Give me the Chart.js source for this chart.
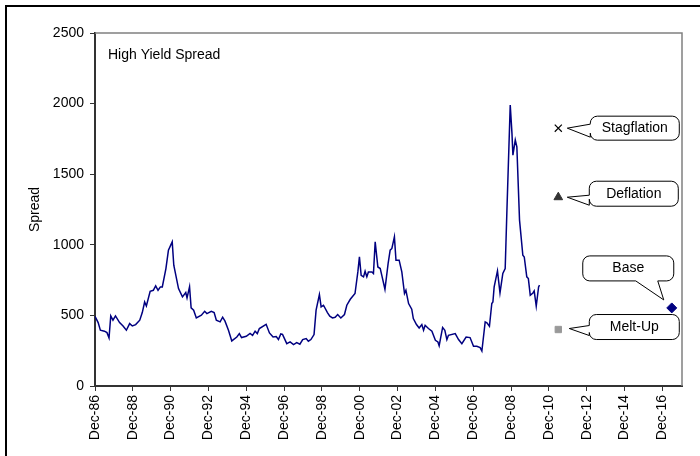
<!DOCTYPE html>
<html>
<head>
<meta charset="utf-8">
<script src="https://cdn.jsdelivr.net/npm/chart.js@4.4.0/dist/chart.umd.min.js"></script>
<style>
  html, body { margin: 0; padding: 0; background: #fff; }
  #wrap { width: 700px; height: 456px; }
</style>
</head>
<body>
<div id="wrap"><canvas id="spreadChart" width="700" height="456"></canvas></div>
<script>
// x positions are months counted from Dec-86
const months = [
    0, 2, 3.4, 6, 7.6, 8.9, 10, 11.4, 13, 15.6, 17.8, 19.9, 22, 23.7, 25.8, 28.4, 30, 31.5, 32.6, 35,
    37, 38.5, 40, 41.5, 42.7, 45, 46.6, 49, 50, 53, 55.5, 57.6, 58.4, 60, 61, 62.6, 64.3, 67.5, 69.6, 71,
    73.8, 75.6, 77, 79.4, 81, 82.5, 84.7, 86.8, 90, 91.6, 93, 96, 98.4, 100, 101.6, 103, 104.3, 108.6, 110.7, 113,
    115, 116.4, 117.9, 119, 121.7, 123.8, 126, 128, 130, 131.8, 134, 135.4, 137, 139, 140.3, 142.4, 143.5, 145, 147.5, 149,
    150.7, 152.4, 154, 156, 158.3, 159.8, 162, 165, 166.8, 167.8, 168.9, 170.4, 171.4, 172.5, 173.5, 175.7, 176.7, 177.8, 179.5, 181,
    182, 184, 186, 187.3, 188.4, 190, 191, 193, 194.7, 196.4, 197.3, 199, 201, 202, 204, 205.7, 207.4, 208.5, 209.5, 211.6,
    213.8, 216, 217.6, 218.4, 220.6, 222, 223.3, 224.3, 228.6, 230.7, 232.8, 235.5, 238, 240.2, 242.3, 244.4, 245.5, 247.6, 248.7, 250.3,
    251.8, 252.5, 253.3, 255.4, 257, 258.8, 260.3, 261.4, 263.5, 264.6, 265.2, 266.7, 267.7, 269.4, 271.5, 272.4, 274, 275, 276.2, 277.9,
    278.7, 280, 281.5, 282.1
];
const spread = [
    494, 449, 395, 388, 378, 340, 496, 466, 496, 449, 425, 395, 442, 425, 435, 466, 520, 595, 567, 671,
    678, 709, 678, 702, 702, 832, 962, 1021, 855, 690, 631, 662, 624, 702, 553, 537, 482, 501, 529, 513,
    529, 520, 466, 454, 487, 459, 395, 319, 347, 371, 343, 352, 373, 359, 388, 371, 407, 437, 376, 347,
    350, 329, 369, 366, 300, 312, 293, 307, 296, 329, 336, 317, 329, 364, 537, 648, 560, 572, 520, 495,
    482, 487, 506, 482, 506, 572, 614, 655, 808, 914, 784, 773, 813, 773, 808, 808, 797, 1021, 843, 832,
    784, 685, 867, 962, 974, 1056, 891, 891, 808, 655, 678, 584, 544, 478, 435, 411, 435, 395, 430, 407,
    388, 324, 312, 285, 415, 395, 329, 359, 371, 329, 300, 347, 343, 281, 281, 272, 248, 454, 447, 423,
    584, 595, 702, 815, 659, 797, 832, 1245, 1990, 1789, 1635, 1742, 1694, 1175, 926, 914, 773, 761, 643, 659,
    673, 565, 702, 714
];

const tickMonths = [0, 24, 48, 72, 96, 120, 144, 168, 192, 216, 240, 264, 288, 312, 336, 360];
const tickLabels = ['Dec-86', 'Dec-88', 'Dec-90', 'Dec-92', 'Dec-94', 'Dec-96', 'Dec-98', 'Dec-00',
    'Dec-02', 'Dec-04', 'Dec-06', 'Dec-08', 'Dec-10', 'Dec-12', 'Dec-14', 'Dec-16'];

const scenarioNames = ['Stagflation', 'Deflation', 'Base', 'Melt-Up'];
const scenarioMonths = [294, 294, 366, 294];
const scenarioValues = [1826, 1337, 553, 400];

const FONT = 'Liberation Sans, Arial, sans-serif';

// marker look per scenario
const markerStyle = {
    'Stagflation': { pointStyle: 'crossRot', radius: 5, color: '#000', borderWidth: 1.2 },
    'Deflation': { pointStyle: 'triangle', radius: 5, color: '#333', borderWidth: 1 },
    'Base': { pointStyle: 'rectRot', radius: 5, color: '#000080', borderWidth: 1 },
    'Melt-Up': { pointStyle: 'rect', radius: 4.5, color: '#999', borderWidth: 1 }
};

// box/tail geometry relative to the marker pixel
const calloutShape = {
    'Stagflation': { dx: 32, dy: -12, w: 89, h: 24, side: 'left', a: -4, b: 9, tx: 9, ty: 0 },
    'Deflation': { dx: 31, dy: -16, w: 89, h: 25, side: 'left', a: -2, b: 8, tx: 9, ty: 0 },
    'Melt-Up': { dx: 31, dy: -15, w: 90, h: 25, side: 'left', a: -4, b: 6, tx: 11, ty: -1 },
    'Base': { dx: -89, dy: -52, w: 91, h: 25, side: 'bottom', a: -36, b: -14, tx: -8, ty: -8 }
};

function calloutPath(ctx, x, y, w, h, r, s, px, py) {
    ctx.beginPath();
    ctx.moveTo(x + r, y);
    ctx.lineTo(x + w - r, y);
    ctx.arcTo(x + w, y, x + w, y + r, r);
    ctx.lineTo(x + w, y + h - r);
    ctx.arcTo(x + w, y + h, x + w - r, y + h, r);
    if (s.side === 'bottom') {
        ctx.lineTo(px + s.b, y + h);
        ctx.lineTo(px + s.tx, py + s.ty);
        ctx.lineTo(px + s.a, y + h);
    }
    ctx.lineTo(x + r, y + h);
    ctx.arcTo(x, y + h, x, y + h - r, r);
    if (s.side === 'left') {
        ctx.lineTo(x, py + s.b);
        ctx.lineTo(px + s.tx, py + s.ty);
        ctx.lineTo(x, py + s.a);
    }
    ctx.lineTo(x, y + r);
    ctx.arcTo(x, y, x + r, y, r);
    ctx.closePath();
}

const decorations = {
    id: 'decorations',
    beforeDatasetsDraw(chart) {
        const { ctx, chartArea: a } = chart;
        ctx.save();
        // grey frame on top and right of the plot
        ctx.strokeStyle = '#808080';
        ctx.lineWidth = 1.5;
        ctx.beginPath();
        ctx.moveTo(a.left, a.top);
        ctx.lineTo(a.right, a.top);
        ctx.lineTo(a.right, a.bottom);
        ctx.stroke();
        ctx.restore();
    },
    afterDatasetsDraw(chart) {
        const { ctx, chartArea: a, scales: { x, y } } = chart;
        ctx.save();
        ctx.fillStyle = '#000';
        ctx.font = '14px ' + FONT;
        ctx.textBaseline = 'alphabetic';
        ctx.textAlign = 'left';
        ctx.fillText('High Yield Spread', a.left + 13, a.top + 26);

        scenarioNames.forEach((name, i) => {
            const s = calloutShape[name];
            const px = x.getPixelForValue(scenarioMonths[i]);
            const py = y.getPixelForValue(scenarioValues[i]);
            const bx = px + s.dx, by = py + s.dy;
            calloutPath(ctx, bx, by, s.w, s.h, 7, s, px, py);
            ctx.fillStyle = '#fff';
            ctx.fill();
            ctx.strokeStyle = '#000';
            ctx.lineWidth = 1;
            ctx.stroke();
            ctx.fillStyle = '#000';
            ctx.textAlign = 'center';
            ctx.textBaseline = 'middle';
            ctx.fillText(name, bx + s.w / 2, by + s.h / 2);
        });

        // outer frame
        ctx.strokeStyle = '#000';
        ctx.lineWidth = 2;
        ctx.beginPath();
        ctx.moveTo(6, 456);
        ctx.lineTo(6, 6);
        ctx.lineTo(700, 6);
        ctx.stroke();
        ctx.restore();
    }
};

const scenarioSets = scenarioNames.map((name, i) => {
    const m = markerStyle[name];
    return {
        type: 'scatter',
        label: name,
        data: [{ x: scenarioMonths[i], y: scenarioValues[i] }],
        pointStyle: m.pointStyle,
        pointRadius: m.radius,
        pointBackgroundColor: m.color,
        pointBorderColor: m.color,
        pointBorderWidth: m.borderWidth
    };
});

new Chart(document.getElementById('spreadChart'), {
    type: 'line',
    data: {
        datasets: [{
            label: 'High Yield Spread',
            data: months.map((m, i) => ({ x: m, y: spread[i] })),
            borderColor: '#000080',
            borderWidth: 1.5,
            pointRadius: 0,
            tension: 0,
            fill: false
        }, ...scenarioSets]
    },
    options: {
        responsive: false,
        animation: false,
        events: [],
        layout: { padding: { left: 0, top: 33, right: 18, bottom: 0 } },
        plugins: { legend: { display: false }, tooltip: { enabled: false } },
        scales: {
            x: {
                type: 'linear',
                min: 0,
                max: 372.5,
                afterBuildTicks: scale => { scale.ticks = tickMonths.map(v => ({ value: v })); },
                afterFit: scale => { scale.height = 70; },
                ticks: {
                    callback: v => tickLabels[tickMonths.indexOf(v)],
                    minRotation: 90,
                    maxRotation: 90,
                    autoSkip: false,
                    padding: 4,
                    color: '#000',
                    font: { family: FONT, size: 14 }
                },
                grid: { drawOnChartArea: false, tickLength: 5, color: '#333', lineWidth: 1 },
                border: { color: '#333', width: 2 }
            },
            y: {
                min: 0,
                max: 2500,
                afterFit: scale => { scale.width = 95; },
                ticks: {
                    stepSize: 500,
                    padding: 6,
                    color: '#000',
                    font: { family: FONT, size: 14 },
                    callback: v => String(v)
                },
                title: {
                    display: true,
                    text: 'Spread',
                    color: '#000',
                    font: { family: FONT, size: 14 },
                    padding: { top: 27, bottom: 0 }
                },
                grid: { drawOnChartArea: false, tickLength: 5, color: '#333', lineWidth: 1 },
                border: { color: '#333', width: 2 }
            }
        }
    },
    plugins: [decorations]
});
</script>
</body>
</html>
